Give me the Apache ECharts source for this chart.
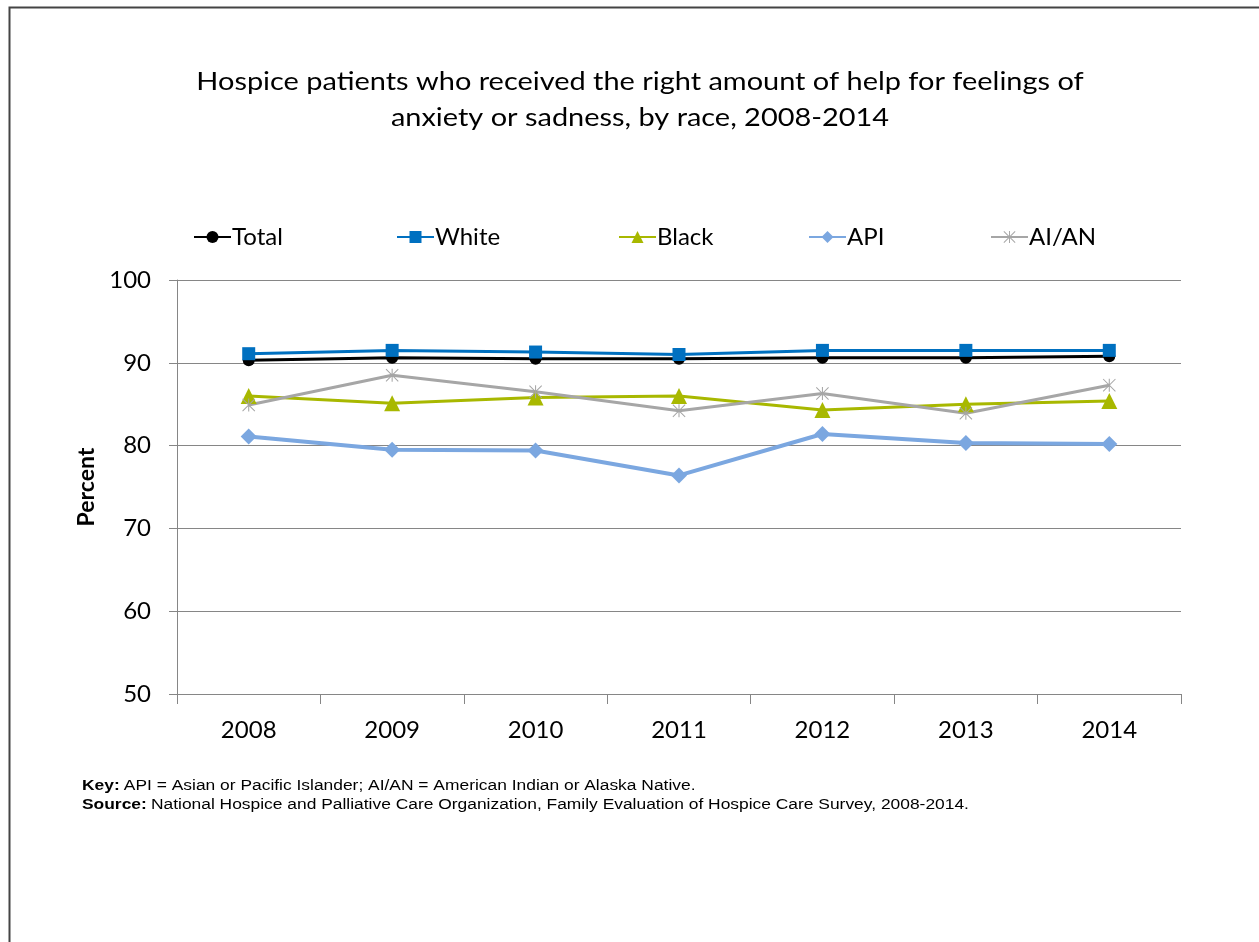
<!DOCTYPE html>
<html><head><meta charset="utf-8">
<script src="https://cdn.jsdelivr.net/npm/echarts@6/dist/echarts.min.js"></script>
<style>html,body{margin:0;padding:0;background:#fff;}#c{width:1259px;height:942px;}</style>
</head><body><div id="c"></div>
<script>
const years = ['2008','2009','2010','2011','2012','2013','2014'];
const total = [90.3, 90.6, 90.5, 90.5, 90.6, 90.6, 90.8];
const white = [91.1, 91.5, 91.3, 91.0, 91.5, 91.5, 91.5];
const black = [86.0, 85.1, 85.8, 86.0, 84.3, 85.0, 85.4];
const api   = [81.1, 79.5, 79.4, 76.4, 81.4, 80.3, 80.2];
const aian  = [84.9, 88.5, 86.5, 84.2, 86.3, 83.9, 87.3];
const yTicks = [50, 60, 70, 80, 90, 100];

const starPath = 'path://M9.2,0L10.8,0L10.8,20L9.2,20Z M0,1.1L1.1,0L20,18.9L18.9,20Z M18.9,0L20,1.1L1.1,20L0,18.9Z';
const font = 'Lato, "Open Sans", sans-serif';
const foot = '"Liberation Sans", Arial, sans-serif';

const defs = [
  {name:'Total', data: total, color:'#000000', symbol:'circle', size:12, width:3},
  {name:'White', data: white, color:'#0070C0', symbol:'rect', size:13, width:3},
  {name:'Black', data: black, color:'#A8B800', symbol:'triangle', size:16, width:3},
  {name:'API', data: api, color:'#7BA7E0', symbol:'diamond', size:16, width:4},
  {name:'AI/AN', data: aian, color:'#A6A6A6', symbol:starPath, size:13, width:3}
];
const legendX = [188, 391, 613, 803, 985];

const chart = echarts.init(document.getElementById('c'));
chart.setOption({
  animation:false,
  backgroundColor:'#fff',
  legend: defs.map((d,i)=>({
    data:[d.name], left:legendX[i], top:220, itemWidth:37, itemHeight:15, itemGap:4,
    textStyle:{fontFamily:font, fontSize:24, color:'#000', padding:[0,0,0,-4]}
  })),
  grid:{left:177, right:78, top:280, bottom:248},
  xAxis:{
    type:'category', data:years, boundaryGap:true,
    axisLine:{lineStyle:{color:'#868686', width:1}},
    axisTick:{show:true, length:10, lineStyle:{color:'#868686'}},
    axisLabel:{fontFamily:font, fontSize:24, color:'#000', margin:24}
  },
  yAxis:{
    type:'value', min:50, max:100, interval:10,
    name:'Percent', nameLocation:'middle', nameGap:58, nameRotate:90,
    nameTextStyle:{fontFamily:font, fontSize:23, fontWeight:'bold', color:'#000'},
    axisLine:{show:true, lineStyle:{color:'#868686'}},
    axisTick:{show:true, length:8, lineStyle:{color:'#868686'}},
    axisLabel:{fontFamily:font, fontSize:24, color:'#000', margin:26,
      formatter: v => yTicks.includes(v) ? String(v) : ''},
    splitLine:{lineStyle:{color:'#868686', width:1}}
  },
  series: defs.map(d=>({
    name:d.name, type:'line', data:d.data, symbol:d.symbol, symbolSize:d.size,
    lineStyle:{color:d.color, width:d.width},
    itemStyle:{color:d.color, borderWidth:0},
    z: d.name==='White'?5:(d.name==='Total'?4:3)
  })),
  graphic:[
    {type:'rect', shape:{x:9.5, y:7.5, width:1260, height:960}, style:{fill:'none', stroke:'#444', lineWidth:2}, silent:true},
    {type:'text', x:640, y:64, scaleX:1.157, style:{
      text:'Hospice patients who received the right amount of help for feelings of\nanxiety or sadness, by race, 2008-2014',
      textAlign:'center', font:'normal 25px ' + font, lineHeight:36, fill:'#000'}},
    {type:'text', x:82, y:779, scaleX:1.243, style:{rich:{b:{fontWeight:'bold', fontFamily:foot, fontSize:14}, n:{fontFamily:foot, fontSize:14}}, text:'{b|Key:} {n|API = Asian or Pacific Islander; AI/AN = American Indian or Alaska Native.}', fill:'#000'}},
    {type:'text', x:82, y:798, scaleX:1.243, style:{rich:{b:{fontWeight:'bold', fontFamily:foot, fontSize:14}, n:{fontFamily:foot, fontSize:14}}, text:'{b|Source:} {n|National Hospice and Palliative Care Organization, Family Evaluation of Hospice Care Survey, 2008-2014.}', fill:'#000'}}
  ]
});
</script></body></html>
